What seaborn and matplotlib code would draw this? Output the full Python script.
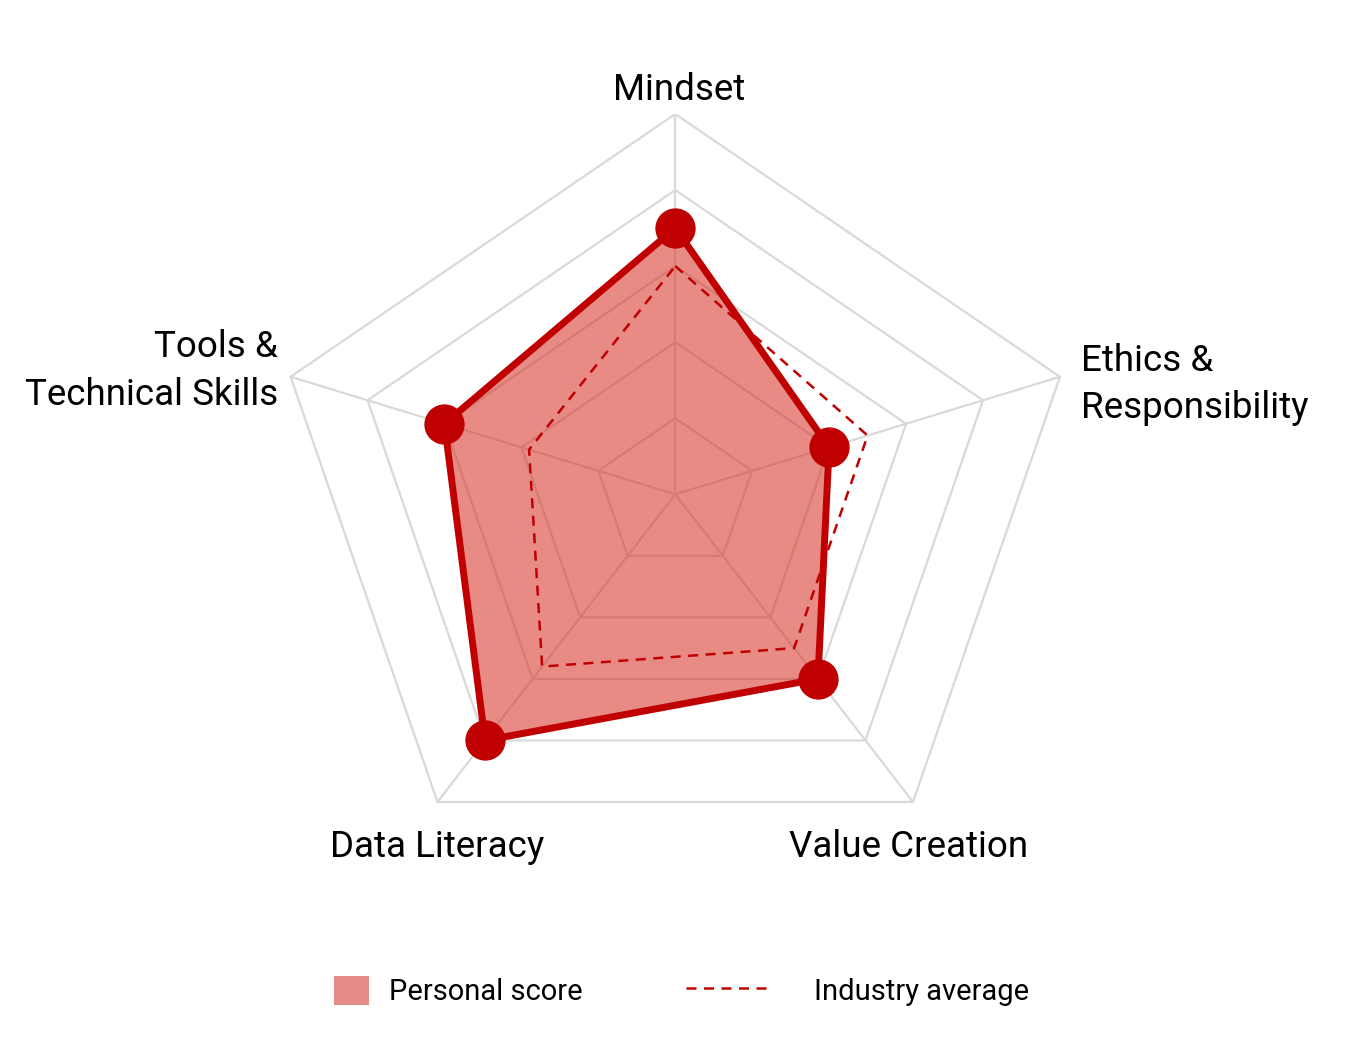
import numpy as np
import pandas as pd
import matplotlib.pyplot as plt
import matplotlib.patches as mpatches
from matplotlib.lines import Line2D
from matplotlib.legend_handler import HandlerPatch, HandlerLine2D
import seaborn as sns

sns.set_theme(style='white')
plt.rcParams['font.family'] = ['Roboto', 'DejaVu Sans']

# chart data (clockwise from the top)
categories = ['Mindset', 'Ethics &\nResponsibility', 'Value Creation',
              'Data Literacy', 'Tools &\nTechnical Skills']
personal = [3.5, 2.0, 3.0, 4.0, 3.0]
industry = [3.0, 2.5, 2.5, 2.8, 1.9]
levels = [1, 2, 3, 4, 5]

red = '#C00000'
fill_col = '#D52C1F'
grid_col = '#D9D9D9'

n = len(categories)
theta = np.deg2rad(90 - 72 * np.arange(n))


def to_xy(vals):
    vals = np.asarray(vals, dtype=float)
    x = vals * np.cos(theta)
    y = vals * np.sin(theta)
    return np.append(x, x[0]), np.append(y, y[0])


fig = plt.figure(figsize=(13.58, 10.46), dpi=100)
ax = fig.add_axes([0.1994, 0.1639, 0.5957, 0.7271])

# grid rings + spokes
for lv in levels:
    gx, gy = to_xy([lv] * n)
    ax.plot(gx, gy, color=grid_col, lw=1.6, zorder=1)
for t in theta:
    ax.plot([0, 5 * np.cos(t)], [0, 5 * np.sin(t)], color=grid_col, lw=1.6, zorder=1)

px, py = to_xy(personal)
ix, iy = to_xy(industry)
df_p = pd.DataFrame({'x': px, 'y': py})
df_i = pd.DataFrame({'x': ix, 'y': iy})

ax.fill(px, py, color=fill_col, alpha=0.55, lw=0, zorder=2)
sns.lineplot(data=df_i, x='x', y='y', sort=False, estimator=None, ax=ax,
             color=red, lw=1.8, linestyle=(0, (4, 3)), zorder=3)
sns.lineplot(data=df_p, x='x', y='y', sort=False, estimator=None, ax=ax,
             color=red, lw=5, zorder=4)
ax.plot(px[:-1], py[:-1], 'o', color=red, ms=28, mec=red, zorder=5, clip_on=False)
ax.set_xlim(-5, 5)
ax.set_ylim(-5, 5)
ax.axis('off')

# category labels
lab_style = [
    dict(ha='center', va='baseline', off=(3, 10)),
    dict(ha='left', va='baseline', off=(15, -30)),
    dict(ha='center', va='baseline', off=(-3, -40)),
    dict(ha='center', va='baseline', off=(0, -40)),
    dict(ha='right', va='baseline', off=(-9, -20)),
]
for lab, t, st in zip(categories, theta, lab_style):
    ax.annotate(lab, (5 * np.cos(t), 5 * np.sin(t)), xytext=st['off'],
                textcoords='offset points', ha=st['ha'], va=st['va'],
                multialignment=st['ha'],
                fontsize=26.5, color='black', linespacing=1.4,
                annotation_clip=False)


# legend
def patch_box(legend, orig_handle, xdescent, ydescent, width, height, fontsize):
    w = height * 38 / 33
    return mpatches.Rectangle((width - w - xdescent, -ydescent), w, height)


class ShortLine(HandlerLine2D):
    def create_artists(self, legend, orig_handle, xdescent, ydescent,
                       width, height, fontsize, trans):
        return super().create_artists(legend, orig_handle, xdescent, ydescent,
                                      width * 0.76, height, fontsize, trans)


h_personal = mpatches.Patch(facecolor=fill_col, alpha=0.55, edgecolor='none',
                            label='Personal score')
h_industry = Line2D([], [], color=red, lw=1.8, linestyle=(0, (4, 3)),
                    label='Industry average')
fig.legend(handles=[h_personal, h_industry], loc='center',
           bbox_to_anchor=(0.475, 0.0526), ncol=2, frameon=False,
           fontsize=21, labelcolor='black', handlelength=3.7, handleheight=1.2,
           handletextpad=0.685, columnspacing=3.56, borderpad=0,
           handler_map={mpatches.Patch: HandlerPatch(patch_func=patch_box),
                        Line2D: ShortLine()})

fig.savefig('out.png', dpi=100)
